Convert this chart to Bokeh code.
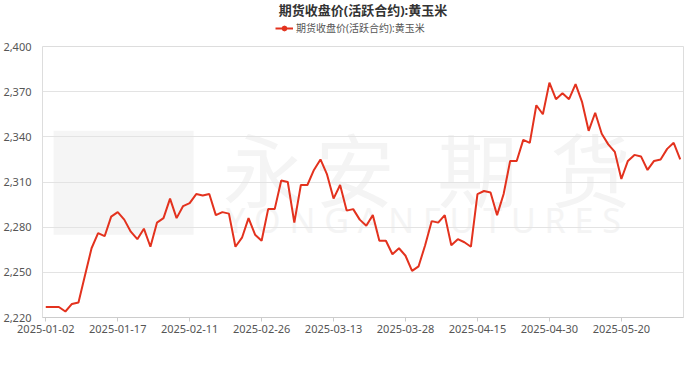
from bokeh.plotting import figure
from bokeh.layouts import column
from bokeh.models import (ColumnDataSource, FixedTicker, NumeralTickFormatter, Range1d,
                          Legend, LegendItem, Label, BoxAnnotation)
from bokeh.embed import file_html
from bokeh.resources import INLINE

# ---------------- data ----------------
dates = [
    "2025-01-02", "2025-01-03", "2025-01-06", "2025-01-07", "2025-01-08", "2025-01-09",
    "2025-01-10", "2025-01-13", "2025-01-14", "2025-01-15", "2025-01-16", "2025-01-17",
    "2025-01-20", "2025-01-21", "2025-01-22", "2025-01-23", "2025-01-24", "2025-01-27",
    "2025-02-05", "2025-02-06", "2025-02-07", "2025-02-10", "2025-02-11", "2025-02-12",
    "2025-02-13", "2025-02-14", "2025-02-17", "2025-02-18", "2025-02-19", "2025-02-20",
    "2025-02-21", "2025-02-24", "2025-02-25", "2025-02-26", "2025-02-27", "2025-02-28",
    "2025-03-03", "2025-03-04", "2025-03-05", "2025-03-06", "2025-03-07", "2025-03-10",
    "2025-03-11", "2025-03-12", "2025-03-13", "2025-03-14", "2025-03-17", "2025-03-18",
    "2025-03-19", "2025-03-20", "2025-03-21", "2025-03-24", "2025-03-25", "2025-03-26",
    "2025-03-27", "2025-03-28", "2025-03-31", "2025-04-01", "2025-04-02", "2025-04-03",
    "2025-04-07", "2025-04-08", "2025-04-09", "2025-04-10", "2025-04-11", "2025-04-14",
    "2025-04-15", "2025-04-16", "2025-04-17", "2025-04-18", "2025-04-21", "2025-04-22",
    "2025-04-23", "2025-04-24", "2025-04-25", "2025-04-28", "2025-04-29", "2025-04-30",
    "2025-05-06", "2025-05-07", "2025-05-08", "2025-05-09", "2025-05-12", "2025-05-13",
    "2025-05-14", "2025-05-15", "2025-05-16", "2025-05-19", "2025-05-20", "2025-05-21",
    "2025-05-22", "2025-05-23", "2025-05-26", "2025-05-27", "2025-05-28", "2025-05-29",
    "2025-05-30", "2025-06-03",
]

prices = [
    2227, 2227, 2227, 2224, 2229, 2230, 2248, 2266, 2276, 2274,
    2287, 2290, 2285, 2277, 2272, 2279, 2267, 2283, 2286, 2299,
    2286, 2294, 2296, 2302, 2301, 2302, 2288, 2290, 2289, 2267,
    2273, 2286, 2275, 2271, 2292, 2292, 2311, 2310, 2283, 2308,
    2308, 2318, 2325, 2315, 2299, 2308, 2291, 2292, 2285, 2281,
    2288, 2271, 2271, 2262, 2266, 2261, 2251, 2254, 2268, 2284,
    2283, 2288, 2268, 2272, 2270, 2267, 2302, 2304, 2303, 2288,
    2302, 2324, 2324, 2338, 2336, 2361, 2355, 2376, 2365, 2369,
    2365, 2375, 2363, 2344, 2356, 2342, 2335, 2330, 2312, 2324,
    2328, 2327, 2318, 2324, 2325, 2332, 2336, 2325,
]

y_ticks = [2220, 2250, 2280, 2310, 2340, 2370, 2400]
x_label_step = 11
chart_title = "期货收盘价(活跃合约):黄玉米"
series_name = "期货收盘价(活跃合约):黄玉米"

FONT = "'Noto Sans', 'Noto Sans CJK SC'"
RED = "#e3321e"
W = 684
HDR_H = 37
MAIN_H = 321

# ---------------- header: title + legend ----------------
hdr = figure(width=W, height=HDR_H, output_backend="svg", toolbar_location=None,
             x_range=Range1d(0, W), y_range=Range1d(0, HDR_H), min_border=0,
             x_axis_type=None, y_axis_type=None, outline_line_color=None,
             background_fill_color="white", border_fill_color="white")
hdr.grid.visible = False
hdr.add_layout(Label(x=W / 2, y=HDR_H - 9, text=chart_title, text_font=FONT,
                     text_font_size="13px", text_font_style="bold", text_color="#333333",
                     text_align="center", text_baseline="middle"))
# invisible proxies: only used to draw the legend symbol (line + circle)
leg_line = hdr.line(x=[0, 1], y=[0, 0], line_color=RED, line_width=2, visible=False)
leg_mark = hdr.scatter(x=[0], y=[0], size=9, fill_color=RED, line_color=RED, visible=False)
legend = Legend(items=[LegendItem(label=series_name, renderers=[leg_line, leg_mark])],
                orientation="horizontal", location=(233, 2), click_policy="none",
                label_text_font=FONT, label_text_font_size="10px", label_text_color="#555555",
                glyph_width=18, glyph_height=12, label_height=12, label_standoff=3,
                padding=2, margin=0, spacing=0,
                border_line_color=None, background_fill_alpha=0)
hdr.add_layout(legend)

# ---------------- main chart ----------------
idx = list(range(len(dates)))
src = ColumnDataSource(dict(x=idx, y=prices, date=dates))

p = figure(width=W, height=MAIN_H, output_backend="svg", toolbar_location=None,
           x_range=Range1d(-0.5, len(dates) - 0.5),
           y_range=Range1d(y_ticks[0], y_ticks[-1]),
           min_border_left=34, min_border_right=1, min_border_top=9, min_border_bottom=41,
           background_fill_color="white", border_fill_color="white")

# watermark (very faint)
wm_color = "#f4f4f4"
p.add_layout(BoxAnnotation(left=1.2, right=22.6, bottom=2275, top=2344,
                           fill_color="#f5f5f5", fill_alpha=1, line_color=None, level="image"))
for ch, cx in zip("永安期货", [33.2, 47.2, 66.0, 83.3]):
    p.add_layout(Label(x=cx, y=2318, text=ch, text_font=FONT, text_font_size="80px",
                       text_color=wm_color, text_align="center", text_baseline="middle",
                       level="image"))
p.add_layout(Label(x=59.1, y=2285, text="Y O N G A N   F U T U R E S", text_font=FONT,
                   text_font_size="34px", text_color=wm_color, text_align="center",
                   text_baseline="middle", level="image"))

p.line("x", "y", source=src, line_color=RED, line_width=2)

p.xaxis.ticker = FixedTicker(ticks=list(range(0, len(dates), x_label_step)))
p.xaxis.major_label_overrides = {i: dates[i] for i in range(0, len(dates), x_label_step)}
p.xaxis.axis_line_color = "#cccccc"
p.xaxis.major_tick_line_color = "#cccccc"
p.xaxis.major_tick_in = 0
p.xaxis.major_tick_out = 4
p.xaxis.minor_tick_line_color = None
p.xaxis.major_label_text_font = FONT
p.xaxis.major_label_text_font_size = "11px"
p.xaxis.major_label_text_color = "#555555"
p.xaxis.major_label_standoff = 3

p.yaxis.ticker = FixedTicker(ticks=y_ticks)
p.yaxis.formatter = NumeralTickFormatter(format="0,0")
p.yaxis.axis_line_color = None
p.yaxis.major_tick_line_color = None
p.yaxis.minor_tick_line_color = None
p.yaxis.major_label_text_font = FONT
p.yaxis.major_label_text_font_size = "11px"
p.yaxis.major_label_text_color = "#555555"
p.yaxis.major_label_standoff = 5

p.xgrid.grid_line_color = None
p.ygrid.grid_line_color = "#e3e3e3"
p.ygrid.grid_line_width = 1
p.outline_line_color = "#dddddd"

layout = column(hdr, p, spacing=0)
open("out.html", "w").write(file_html(layout, INLINE))
